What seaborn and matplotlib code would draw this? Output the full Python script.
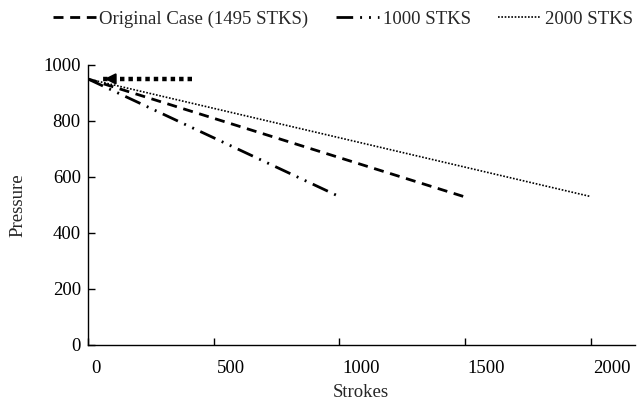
import numpy as np
import pandas as pd
import matplotlib.pyplot as plt
import matplotlib.transforms as mtransforms
import seaborn as sns

# data
series_names = ["Original Case (1495 STKS)", "1000 STKS", "2000 STKS"]
strokes_start = [0, 0, 0]
strokes_end = [1495, 1000, 2000]
pressure_start = [950, 950, 950]
pressure_end = [530, 530, 530]
arrow_x = [415, 55]
arrow_y = [950, 950]

x_ticks = [0, 500, 1000, 1500, 2000]
y_ticks = [0, 200, 400, 600, 800, 1000]

sns.set_style("white")
plt.rcParams['font.family'] = ['Liberation Serif', 'DejaVu Serif']

fig = plt.figure(figsize=(6.41, 4.03), dpi=100)
ax = fig.add_axes([0.137, 0.144, 0.853, 0.695])

styles = [
    dict(linestyle=(0, (3.6, 2.4)), linewidth=2.0),
    dict(linestyle=(0, (6, 2.5, 0.7, 2.5, 0.7, 2.5)), linewidth=2.0),
    dict(linestyle=(0, (1, 1)), linewidth=1.2),
]

for i, name in enumerate(series_names):
    df = pd.DataFrame({"Strokes": [strokes_start[i], strokes_end[i]],
                       "Pressure": [pressure_start[i], pressure_end[i]]})
    sns.lineplot(data=df, x="Strokes", y="Pressure", ax=ax, color="black",
                 label=name, **styles[i])

# arrow marking the start pressure
ax.plot(arrow_x, arrow_y, color="black", linestyle=(0, (1, 0.9)), linewidth=3.2)
ax.annotate("", xy=(arrow_x[1], arrow_y[1]), xytext=(arrow_x[1] + 60, arrow_y[1]),
            arrowprops=dict(arrowstyle="-|>", color="black", lw=1.5,
                            mutation_scale=16))

ax.set_xlim(0, 2175)
ax.set_ylim(0, 1000)
ax.set_xticks(x_ticks)
ax.set_yticks(y_ticks)
ax.tick_params(direction="in", length=5, width=1, colors="black", labelsize=13.5,
               bottom=True, left=True)
ax.tick_params(axis="x", pad=11)
ax.tick_params(axis="y", pad=5)
# x tick labels sit just right of their ticks in the original
offset = mtransforms.ScaledTranslation(3 / 100, 0, fig.dpi_scale_trans)
for lbl in ax.get_xticklabels():
    lbl.set_horizontalalignment("left")
    lbl.set_transform(lbl.get_transform() + offset)

for side in ["top", "right"]:
    ax.spines[side].set_visible(False)
for side in ["left", "bottom"]:
    ax.spines[side].set_color("black")
    ax.spines[side].set_linewidth(1)

ax.set_xlabel("Strokes", fontsize=13.5, labelpad=5)
ax.set_ylabel("Pressure", fontsize=13.5, labelpad=12)

ax.legend(loc="upper center", bbox_to_anchor=(0.466, 1.255), ncol=3, frameon=False,
          fontsize=13.5, handlelength=2.3, handletextpad=0.2, columnspacing=1.45)

plt.savefig("out.png", dpi=100)
